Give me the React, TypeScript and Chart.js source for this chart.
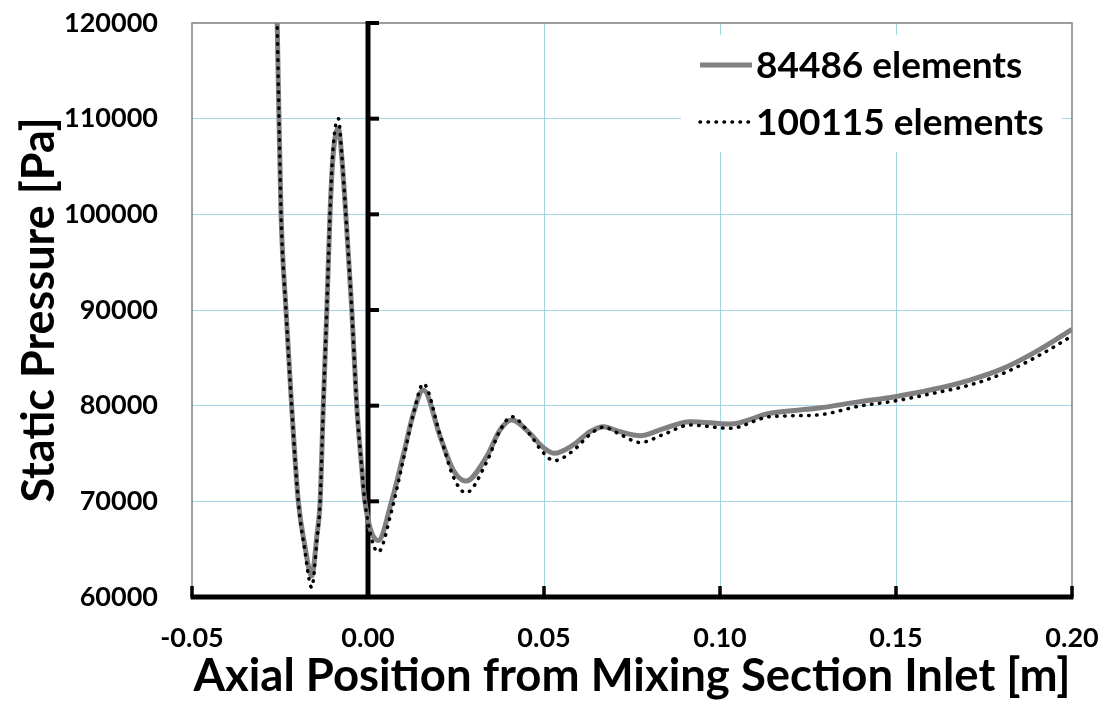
import React, { useEffect, useRef } from "react";
import { Chart, registerables } from "chart.js";

Chart.register(...registerables);

// Axial position [m]
const xPos = [
  -0.0259, -0.0253, -0.0247, -0.0233, -0.0217, -0.0198, -0.018, -0.016, -0.0145, -0.0136,
  -0.0127, -0.0117, -0.0108, -0.0099, -0.0084, -0.0075, -0.0063, -0.0046, -0.0032, -0.0018,
  -0.0009, 0.0029, 0.0067, 0.01, 0.013, 0.0157, 0.0205, 0.0242, 0.0278, 0.0337,
  0.0375, 0.0408, 0.046, 0.0493, 0.0529, 0.0583, 0.0631, 0.0669, 0.0716, 0.0773,
  0.084, 0.0915, 0.1028, 0.1142, 0.1275, 0.1398, 0.1497, 0.1606, 0.171, 0.1805,
  0.1909, 0.2,
];

// Static pressure [Pa], 84486 elements
const coarse = [
  122000, 110200, 100000, 90000, 80000, 70000, 65500, 62200, 66500, 70000,
  80000, 90000, 100000, 106200, 109000, 106200, 100000, 90000, 80000, 73600,
  70000, 65900, 70000, 74800, 79300, 81640, 76760, 73270, 72120, 74670,
  77460, 78500, 77110, 75780, 75020, 75890, 77280, 77800, 77280, 76860,
  77600, 78330, 78080, 79200, 79720, 80420, 80940, 81710, 82680, 83900,
  85890, 87980,
];

// Static pressure [Pa], 100115 elements
const fine = [
  122000, 110500, 100000, 90000, 80000, 70000, 65000, 61000, 66000, 70000,
  80000, 90000, 100000, 107000, 110000, 106500, 100000, 90000, 80000, 73600,
  70000, 64700, 69000, 74300, 79300, 82300, 76900, 72600, 70900, 74100,
  77400, 78850, 77000, 75300, 74250, 75300, 77000, 77750, 77000, 76150,
  77000, 77980, 77630, 78850, 79020, 79970, 80490, 81290, 82160, 83380,
  85300, 87280,
];

const seriesLabels = ["84486 elements", "100115 elements"];
const xTitle = "Axial Position from Mixing Section Inlet [m]";
const yTitle = "Static Pressure [Pa]";
const xGridValues = [0.05, 0.1, 0.15];

const FONT = "Lato";
const GRID = "#a3d6e4";

const axesPlugin = {
  id: "excelAxes",
  beforeDatasetsDraw(chart: any) {
    const { ctx, chartArea, scales } = chart;
    const { left, right, top, bottom } = chartArea;
    const xs = scales.x;
    const ys = scales.y;
    ctx.save();
    ctx.strokeStyle = "#7f7f7f";
    ctx.lineWidth = 1.5;
    ctx.beginPath();
    ctx.moveTo(left, bottom);
    ctx.lineTo(left, top);
    ctx.lineTo(right, top);
    ctx.lineTo(right, bottom);
    ctx.stroke();

    const y0 = ys.getPixelForValue(ys.min);
    const x0 = xs.getPixelForValue(0);
    ctx.strokeStyle = "#000";
    ctx.lineWidth = 5;
    ctx.beginPath();
    ctx.moveTo(left - 1.5, y0);
    ctx.lineTo(right + 1.5, y0);
    ctx.stroke();
    ctx.lineWidth = 3.5;
    xs.ticks.forEach((t: any) => {
      const px = xs.getPixelForValue(t.value);
      ctx.beginPath();
      ctx.moveTo(px, y0);
      ctx.lineTo(px, y0 - 11);
      ctx.stroke();
    });
    ctx.lineWidth = 5;
    ctx.beginPath();
    ctx.moveTo(x0, top - 2);
    ctx.lineTo(x0, y0);
    ctx.stroke();
    ctx.lineWidth = 4;
    ys.ticks.forEach((t: any) => {
      const py = ys.getPixelForValue(t.value);
      ctx.beginPath();
      ctx.moveTo(x0, py);
      ctx.lineTo(x0 + 11, py);
      ctx.stroke();
    });
    ctx.restore();
  },
};

const legendPlugin = {
  id: "insideLegend",
  afterDatasetsDraw(chart: any) {
    const { ctx } = chart;
    ctx.save();
    ctx.fillStyle = "#fff";
    ctx.fillRect(681, 35, 381, 117);
    const rows = [65, 122];
    chart.data.datasets.forEach((ds: any, i: number) => {
      const y = rows[i];
      ctx.beginPath();
      ctx.strokeStyle = ds.borderColor;
      ctx.lineWidth = ds.borderWidth;
      ctx.lineCap = ds.borderCapStyle || "butt";
      ctx.setLineDash(ds.borderDash || []);
      ctx.moveTo(700, y);
      ctx.lineTo(752, y);
      ctx.stroke();
      ctx.setLineDash([]);
      ctx.fillStyle = "#000";
      ctx.font = `bold 37px ${FONT}`;
      ctx.textBaseline = "middle";
      ctx.textAlign = "left";
      ctx.fillText(ds.label, 756, y + 1);
    });
    ctx.restore();
  },
};

export default function App() {
  const ref = useRef<HTMLCanvasElement | null>(null);

  useEffect(() => {
    if (!ref.current) return;
    const chart = new Chart(ref.current, {
      type: "line",
      data: {
        datasets: [
          {
            label: seriesLabels[0],
            data: xPos.map((x, i) => ({ x, y: coarse[i] })),
            borderColor: "#808080",
            borderWidth: 5,
            pointRadius: 0,
            cubicInterpolationMode: "monotone",
            clip: 0,
            order: 2,
          },
          {
            label: seriesLabels[1],
            data: xPos.map((x, i) => ({ x, y: fine[i] })),
            borderColor: "#000",
            borderWidth: 3.5,
            borderDash: [0.5, 7.5],
            borderCapStyle: "round",
            pointRadius: 0,
            cubicInterpolationMode: "monotone",
            clip: 0,
            order: 1,
          },
        ],
      },
      options: {
        animation: false,
        responsive: false,
        layout: { padding: { top: 23, right: 32, left: 0, bottom: 0 } },
        plugins: { legend: { display: false }, tooltip: { enabled: false } },
        scales: {
          x: {
            type: "linear",
            min: -0.05,
            max: 0.2,
            border: { display: false },
            afterFit: (s: any) => {
              s.height = 107;
              s.paddingLeft = 0;
              s.paddingRight = 0;
            },
            ticks: {
              stepSize: 0.05,
              padding: 25,
              color: "#000",
              font: { family: FONT, weight: "bold", size: 27 },
              callback: (v: any) => Number(v).toFixed(2),
            },
            grid: {
              drawTicks: false,
              color: (c: any) =>
                xGridValues.some((g) => Math.abs(c.tick.value - g) < 1e-6) ? GRID : "rgba(0,0,0,0)",
              lineWidth: 1,
            },
            title: {
              display: true,
              text: xTitle,
              color: "#000",
              font: { family: FONT, weight: "bold", size: 45.5 },
              padding: { top: 0, bottom: 0 },
            },
          },
          y: {
            type: "linear",
            min: 60000,
            max: 120000,
            border: { display: false },
            afterFit: (s: any) => {
              s.width = 192;
              s.paddingTop = 0;
              s.paddingBottom = 0;
            },
            ticks: {
              stepSize: 10000,
              padding: 34,
              color: "#000",
              font: { family: FONT, weight: "bold", size: 27 },
              callback: (v: any) => String(v),
            },
            grid: {
              drawTicks: false,
              color: (c: any) =>
                c.tick.value > 60000 && c.tick.value < 120000 ? GRID : "rgba(0,0,0,0)",
              lineWidth: 1,
            },
            title: {
              display: true,
              text: yTitle,
              color: "#000",
              font: { family: FONT, weight: "bold", size: 45 },
              padding: { top: 12, bottom: 0 },
            },
          },
        },
      },
      plugins: [axesPlugin, legendPlugin],
    } as any);
    return () => chart.destroy();
  }, []);

  return (
    <div style={{ position: "absolute", left: 0, top: 0, width: 1104, height: 704, background: "#fff" }}>
      <canvas ref={ref} width={1104} height={704} style={{ display: "block" }} />
    </div>
  );
}
